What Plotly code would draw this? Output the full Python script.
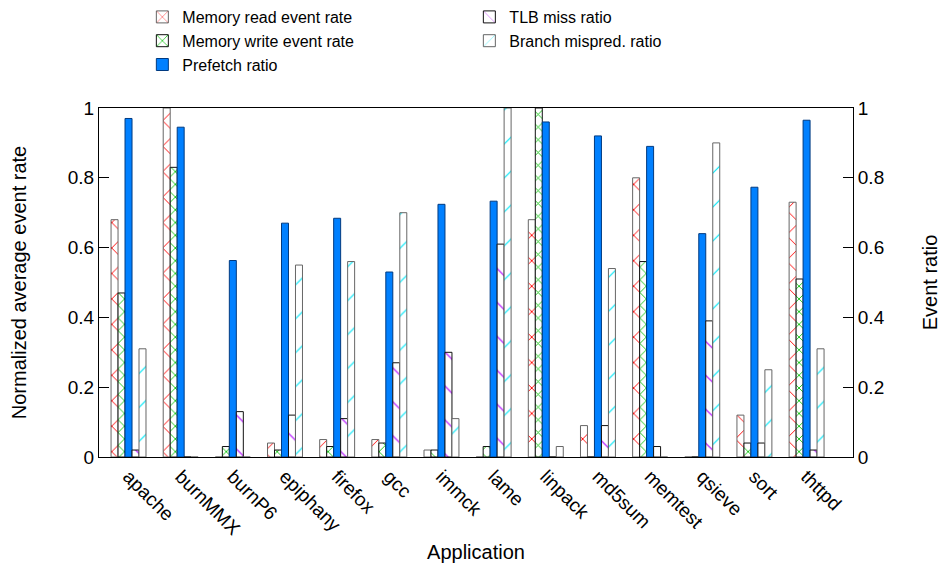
import plotly.graph_objects as go

apps = ["apache", "burnMMX", "burnP6", "epiphany", "firefox", "gcc", "immck",
        "lame", "linpack", "md5sum", "memtest", "qsieve", "sort", "thttpd"]

mem_read = [0.68, 1.00, 0.00, 0.04, 0.05, 0.05, 0.02, 0.00, 0.68, 0.09, 0.80, 0.00, 0.12, 0.73]
mem_write = [0.47, 0.83, 0.03, 0.02, 0.03, 0.04, 0.02, 0.03, 1.00, 0.00, 0.56, 0.00, 0.04, 0.51]
prefetch = [0.97, 0.945, 0.563, 0.67, 0.684, 0.53, 0.724, 0.733, 0.96, 0.92, 0.89, 0.64, 0.773, 0.965]
tlb_miss = [0.02, 0.00, 0.13, 0.12, 0.11, 0.27, 0.30, 0.61, 0.00, 0.09, 0.03, 0.39, 0.04, 0.02]
branch_mispred = [0.31, 0.00, 0.00, 0.55, 0.56, 0.70, 0.11, 1.00, 0.03, 0.54, 0.00, 0.90, 0.25, 0.31]

FONT = "Liberation Sans, Arial, sans-serif"
fig = go.Figure()


def pat(shape, color, size, solidity):
    return dict(shape=shape, fgcolor=color, bgcolor="white", size=size,
                solidity=solidity, fgopacity=1)


fig.add_trace(go.Bar(
    x=apps, y=mem_read, name="Memory read event rate", legendrank=1,
    alignmentgroup="g", offsetgroup="1",
    marker=dict(color="white", line=dict(color="#666666", width=1),
                pattern=pat("x", "#ff0000", 18, 0.1))))
fig.add_trace(go.Bar(
    x=apps, y=mem_write, name="Memory write event rate", legendrank=3,
    alignmentgroup="g", offsetgroup="2",
    marker=dict(color="white", line=dict(color="#111111", width=1),
                pattern=pat("x", "#00c000", 9, 0.18))))
fig.add_trace(go.Bar(
    x=apps, y=prefetch, name="Prefetch ratio", legendrank=5,
    alignmentgroup="g", offsetgroup="3",
    marker=dict(color="#0080ff", line=dict(color="#003a80", width=1))))
fig.add_trace(go.Bar(
    x=apps, y=tlb_miss, name="TLB miss ratio", legendrank=2, yaxis="y2",
    alignmentgroup="g", offsetgroup="4",
    marker=dict(color="white", line=dict(color="#111111", width=1),
                pattern=pat("\\", "#b000ff", 24, 0.05))))
fig.add_trace(go.Bar(
    x=apps, y=branch_mispred, name="Branch mispred. ratio", legendrank=4, yaxis="y2",
    alignmentgroup="g", offsetgroup="5",
    marker=dict(color="white", line=dict(color="#666666", width=1),
                pattern=pat("/", "#00e8f8", 24, 0.05))))

fig.update_layout(
    width=942, height=569,
    margin=dict(l=99, r=89, t=108, b=112, autoexpand=False),
    paper_bgcolor="white", plot_bgcolor="white",
    font=dict(family=FONT, size=17, color="black"),
    barmode="group", bargap=0.33, bargroupgap=0,
    showlegend=True,
    legend=dict(orientation="h", x=0.0575, y=1.0, yref="container", xanchor="left", yanchor="top",
                entrywidth=282, entrywidthmode="pixels", font=dict(size=16),
                bgcolor="rgba(0,0,0,0)", tracegroupgap=0),
    xaxis=dict(range=[-0.566, 13.89], showline=True, linecolor="black", linewidth=1, mirror=True,
               ticks="", tickangle=45, tickfont=dict(size=19), automargin=False,
               title=dict(text="Application", standoff=6), showgrid=False),
    yaxis=dict(range=[0, 1], showline=True, linecolor="black", linewidth=1, mirror=True,
               ticks="inside", ticklen=10, tickcolor="black", dtick=0.2, showgrid=False,
               tickfont=dict(size=19), automargin=False,
               zeroline=False, title=dict(text="Normalized average event rate", standoff=35)),
    yaxis2=dict(range=[0, 1], overlaying="y", side="right", showline=True, linecolor="black",
                ticks="inside", ticklen=10, tickcolor="black", dtick=0.2, showgrid=False,
                tickfont=dict(size=19), automargin=False,
                zeroline=False, title=dict(text="Event ratio", standoff=39)),
)

fig.write_html("out.html", config={"displayModeBar": False},
               post_script="document.body.style.margin='0';")
